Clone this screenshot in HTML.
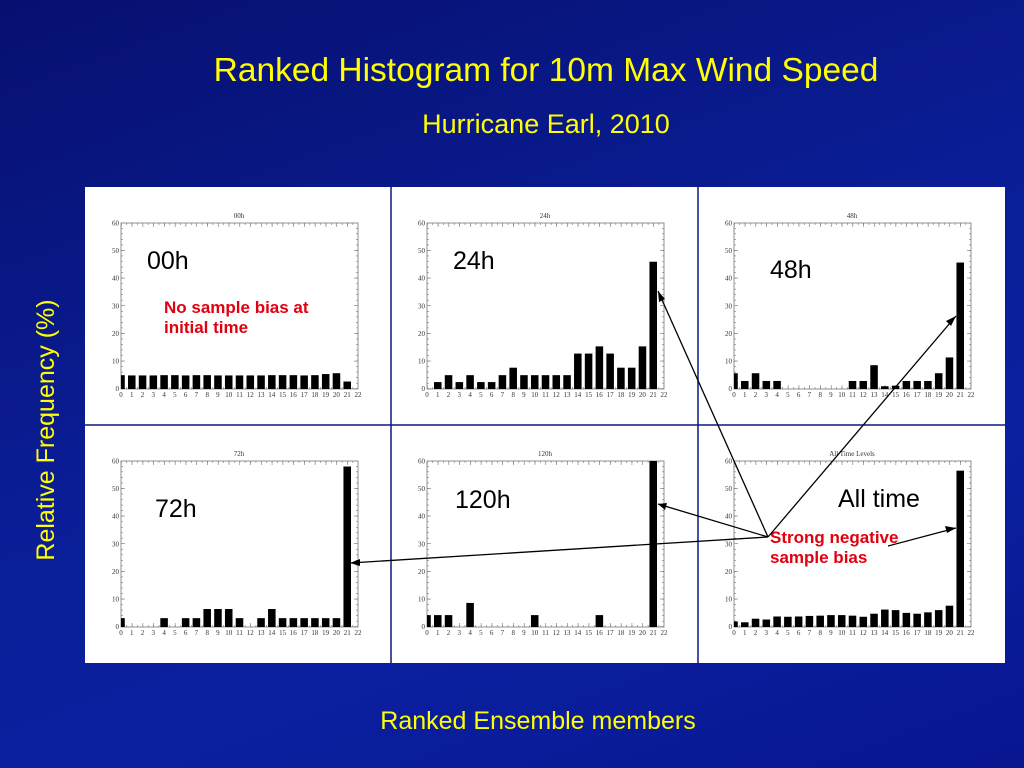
<!DOCTYPE html>
<html><head><meta charset="utf-8"><style>
html,body{margin:0;padding:0;width:1024px;height:768px;overflow:hidden}
body{background:linear-gradient(160deg,#071070 0%,#0a1d95 45%,#0b20a0 70%,#081690 100%);font-family:"Liberation Sans",sans-serif}
svg{position:absolute;left:0;top:0}
.t{fill:#ffff00}
.ax{font-family:"Liberation Serif",serif;font-size:7px;fill:#333}
.big{font-size:25px;fill:#000}
.red{font-size:17px;font-weight:bold;fill:#e00010}
</style></head><body>
<svg width="1024" height="768" viewBox="0 0 1024 768">
<defs>
<g id="axes">
<rect x="0" y="0" width="237" height="166" fill="none" stroke="#777" stroke-width="0.8"/>
<line x1="0" y1="164" x2="237" y2="164" stroke="#777" stroke-width="4" stroke-dasharray="0.6 10.17"/>
<line x1="0" y1="2" x2="237" y2="2" stroke="#777" stroke-width="4" stroke-dasharray="0.6 10.17"/>
<line x1="0" y1="165" x2="237" y2="165" stroke="#777" stroke-width="2" stroke-dasharray="0.6 4.785"/>
<line x1="0" y1="1" x2="237" y2="1" stroke="#777" stroke-width="2" stroke-dasharray="0.6 4.785"/>
<line x1="2" y1="166" x2="2" y2="0" stroke="#777" stroke-width="4" stroke-dasharray="0.6 27.07"/>
<line x1="1" y1="166" x2="1" y2="0" stroke="#777" stroke-width="2" stroke-dasharray="0.6 4.93"/>
<line x1="235" y1="166" x2="235" y2="0" stroke="#777" stroke-width="4" stroke-dasharray="0.6 27.07"/>
<line x1="236" y1="166" x2="236" y2="0" stroke="#777" stroke-width="2" stroke-dasharray="0.6 4.93"/>
<g class="ax" text-anchor="middle">
<text x="0" y="174">0</text><text x="10.8" y="174">1</text><text x="21.5" y="174">2</text><text x="32.3" y="174">3</text><text x="43.1" y="174">4</text><text x="53.9" y="174">5</text><text x="64.6" y="174">6</text><text x="75.4" y="174">7</text><text x="86.2" y="174">8</text><text x="96.9" y="174">9</text><text x="107.7" y="174">10</text><text x="118.5" y="174">11</text><text x="129.3" y="174">12</text><text x="140" y="174">13</text><text x="150.8" y="174">14</text><text x="161.6" y="174">15</text><text x="172.3" y="174">16</text><text x="183.1" y="174">17</text><text x="193.9" y="174">18</text><text x="204.6" y="174">19</text><text x="215.4" y="174">20</text><text x="226.2" y="174">21</text><text x="237" y="174">22</text>
</g>
<g class="ax" text-anchor="end">
<text x="-2" y="168">0</text><text x="-2" y="140.7">10</text><text x="-2" y="113">20</text><text x="-2" y="85.3">30</text><text x="-2" y="57.7">40</text><text x="-2" y="30">50</text><text x="-2" y="2.5">60</text>
</g>
</g>
<clipPath id="cp"><rect x="0" y="0" width="22" height="60"/></clipPath>
</defs>

<text x="546" y="81" class="t" font-size="33.5" text-anchor="middle">Ranked Histogram for 10m Max Wind Speed</text>
<text x="546" y="133" class="t" font-size="27" text-anchor="middle">Hurricane Earl, 2010</text>
<text class="t" font-size="25" text-anchor="middle" transform="translate(54,430) rotate(-90)">Relative Frequency (%)</text>
<text x="538" y="729" class="t" font-size="25" text-anchor="middle">Ranked Ensemble members</text>

<rect x="85" y="187" width="920" height="476" fill="#fff"/>
<line x1="391" y1="187" x2="391" y2="663" stroke="#0a1a80" stroke-width="1.5"/>
<line x1="698" y1="187" x2="698" y2="663" stroke="#0a1a80" stroke-width="1.5"/>
<line x1="85" y1="425" x2="1005" y2="425" stroke="#0a1a80" stroke-width="1.5"/>

<g transform="translate(121,223)"><use href="#axes"/><text x="118" y="-5" class="ax" font-size="6" text-anchor="middle">00h</text>
<g transform="translate(0,166) scale(10.773,-2.767)" clip-path="url(#cp)" fill="#000">
<rect x="-0.35" width="0.7" height="5"/><rect x="0.65" width="0.7" height="4.9"/><rect x="1.65" width="0.7" height="4.9"/><rect x="2.65" width="0.7" height="4.9"/><rect x="3.65" width="0.7" height="5"/><rect x="4.65" width="0.7" height="5"/><rect x="5.65" width="0.7" height="4.9"/><rect x="6.65" width="0.7" height="5"/><rect x="7.65" width="0.7" height="5"/><rect x="8.65" width="0.7" height="4.9"/><rect x="9.65" width="0.7" height="4.9"/><rect x="10.65" width="0.7" height="4.9"/><rect x="11.65" width="0.7" height="4.9"/><rect x="12.65" width="0.7" height="4.9"/><rect x="13.65" width="0.7" height="5"/><rect x="14.65" width="0.7" height="5"/><rect x="15.65" width="0.7" height="5"/><rect x="16.65" width="0.7" height="4.9"/><rect x="17.65" width="0.7" height="5"/><rect x="18.65" width="0.7" height="5.4"/><rect x="19.65" width="0.7" height="5.7"/><rect x="20.65" width="0.7" height="2.7"/>
</g></g>
<g transform="translate(427,223)"><use href="#axes"/><text x="118" y="-5" class="ax" font-size="6" text-anchor="middle">24h</text>
<g transform="translate(0,166) scale(10.773,-2.767)" clip-path="url(#cp)" fill="#000">
<rect x="0.65" width="0.7" height="2.5"/><rect x="1.65" width="0.7" height="5"/><rect x="2.65" width="0.7" height="2.5"/><rect x="3.65" width="0.7" height="5"/><rect x="4.65" width="0.7" height="2.5"/><rect x="5.65" width="0.7" height="2.5"/><rect x="6.65" width="0.7" height="5"/><rect x="7.65" width="0.7" height="7.7"/><rect x="8.65" width="0.7" height="5"/><rect x="9.65" width="0.7" height="5"/><rect x="10.65" width="0.7" height="5"/><rect x="11.65" width="0.7" height="5"/><rect x="12.65" width="0.7" height="5"/><rect x="13.65" width="0.7" height="12.8"/><rect x="14.65" width="0.7" height="12.8"/><rect x="15.65" width="0.7" height="15.4"/><rect x="16.65" width="0.7" height="12.8"/><rect x="17.65" width="0.7" height="7.7"/><rect x="18.65" width="0.7" height="7.7"/><rect x="19.65" width="0.7" height="15.4"/><rect x="20.65" width="0.7" height="46"/>
</g></g>
<g transform="translate(734,223)"><use href="#axes"/><text x="118" y="-5" class="ax" font-size="6" text-anchor="middle">48h</text>
<g transform="translate(0,166) scale(10.773,-2.767)" clip-path="url(#cp)" fill="#000">
<rect x="-0.35" width="0.7" height="5.7"/><rect x="0.65" width="0.7" height="2.9"/><rect x="1.65" width="0.7" height="5.7"/><rect x="2.65" width="0.7" height="2.9"/><rect x="3.65" width="0.7" height="2.9"/><rect x="10.65" width="0.7" height="2.9"/><rect x="11.65" width="0.7" height="2.9"/><rect x="12.65" width="0.7" height="8.6"/><rect x="13.65" width="0.7" height="1"/><rect x="14.65" width="0.7" height="1.2"/><rect x="15.65" width="0.7" height="2.9"/><rect x="16.65" width="0.7" height="2.9"/><rect x="17.65" width="0.7" height="2.9"/><rect x="18.65" width="0.7" height="5.7"/><rect x="19.65" width="0.7" height="11.4"/><rect x="20.65" width="0.7" height="45.7"/>
</g></g>
<g transform="translate(121,461)"><use href="#axes"/><text x="118" y="-5" class="ax" font-size="6" text-anchor="middle">72h</text>
<g transform="translate(0,166) scale(10.773,-2.767)" clip-path="url(#cp)" fill="#000">
<rect x="-0.35" width="0.7" height="3.2"/><rect x="3.65" width="0.7" height="3.2"/><rect x="5.65" width="0.7" height="3.2"/><rect x="6.65" width="0.7" height="3.2"/><rect x="7.65" width="0.7" height="6.5"/><rect x="8.65" width="0.7" height="6.5"/><rect x="9.65" width="0.7" height="6.5"/><rect x="10.65" width="0.7" height="3.2"/><rect x="12.65" width="0.7" height="3.2"/><rect x="13.65" width="0.7" height="6.5"/><rect x="14.65" width="0.7" height="3.2"/><rect x="15.65" width="0.7" height="3.2"/><rect x="16.65" width="0.7" height="3.2"/><rect x="17.65" width="0.7" height="3.2"/><rect x="18.65" width="0.7" height="3.2"/><rect x="19.65" width="0.7" height="3.2"/><rect x="20.65" width="0.7" height="58"/>
</g></g>
<g transform="translate(427,461)"><use href="#axes"/><text x="118" y="-5" class="ax" font-size="6" text-anchor="middle">120h</text>
<g transform="translate(0,166) scale(10.773,-2.767)" clip-path="url(#cp)" fill="#000">
<rect x="-0.35" width="0.7" height="4.3"/><rect x="0.65" width="0.7" height="4.3"/><rect x="1.65" width="0.7" height="4.3"/><rect x="3.65" width="0.7" height="8.7"/><rect x="9.65" width="0.7" height="4.3"/><rect x="15.65" width="0.7" height="4.3"/><rect x="20.65" width="0.7" height="65"/>
</g></g>
<g transform="translate(734,461)"><use href="#axes"/><text x="118" y="-5" class="ax" font-size="6" text-anchor="middle">All Time Levels</text>
<g transform="translate(0,166) scale(10.773,-2.767)" clip-path="url(#cp)" fill="#000">
<rect x="-0.35" width="0.7" height="2"/><rect x="0.65" width="0.7" height="1.7"/><rect x="1.65" width="0.7" height="3"/><rect x="2.65" width="0.7" height="2.7"/><rect x="3.65" width="0.7" height="3.8"/><rect x="4.65" width="0.7" height="3.7"/><rect x="5.65" width="0.7" height="3.8"/><rect x="6.65" width="0.7" height="4"/><rect x="7.65" width="0.7" height="4.1"/><rect x="8.65" width="0.7" height="4.3"/><rect x="9.65" width="0.7" height="4.3"/><rect x="10.65" width="0.7" height="4.1"/><rect x="11.65" width="0.7" height="3.7"/><rect x="12.65" width="0.7" height="4.8"/><rect x="13.65" width="0.7" height="6.3"/><rect x="14.65" width="0.7" height="6.1"/><rect x="15.65" width="0.7" height="5.1"/><rect x="16.65" width="0.7" height="4.8"/><rect x="17.65" width="0.7" height="5.3"/><rect x="18.65" width="0.7" height="6.1"/><rect x="19.65" width="0.7" height="7.7"/><rect x="20.65" width="0.7" height="56.5"/>
</g></g>

<g class="big">
<text x="147" y="269">00h</text><text x="453" y="269">24h</text><text x="770" y="278">48h</text>
<text x="155" y="517">72h</text><text x="455" y="508">120h</text><text x="838" y="507">All time</text>
</g>
<g class="red">
<text x="164" y="313">No sample bias at</text><text x="164" y="333">initial time</text>
<text x="770" y="543">Strong negative</text><text x="770" y="563">sample bias</text>
</g>

<g stroke="#000" stroke-width="1.3" fill="none">
<line x1="768" y1="537" x2="658" y2="291"/>
<line x1="768" y1="537" x2="956" y2="316"/>
<line x1="768" y1="537" x2="658" y2="504"/>
<line x1="768" y1="537" x2="350" y2="563"/>
<line x1="888" y1="546" x2="956" y2="528"/>
</g>
<g fill="#000">
<polygon points="658,291 659,302 665,299"/>
<polygon points="956,316 946,321 951,326"/>
<polygon points="658,504 667,503 665,510"/>
<polygon points="350,563 360,559 360,566"/>
<polygon points="956,528 945,526 947,533"/>
</g>
</svg>
</body></html>
